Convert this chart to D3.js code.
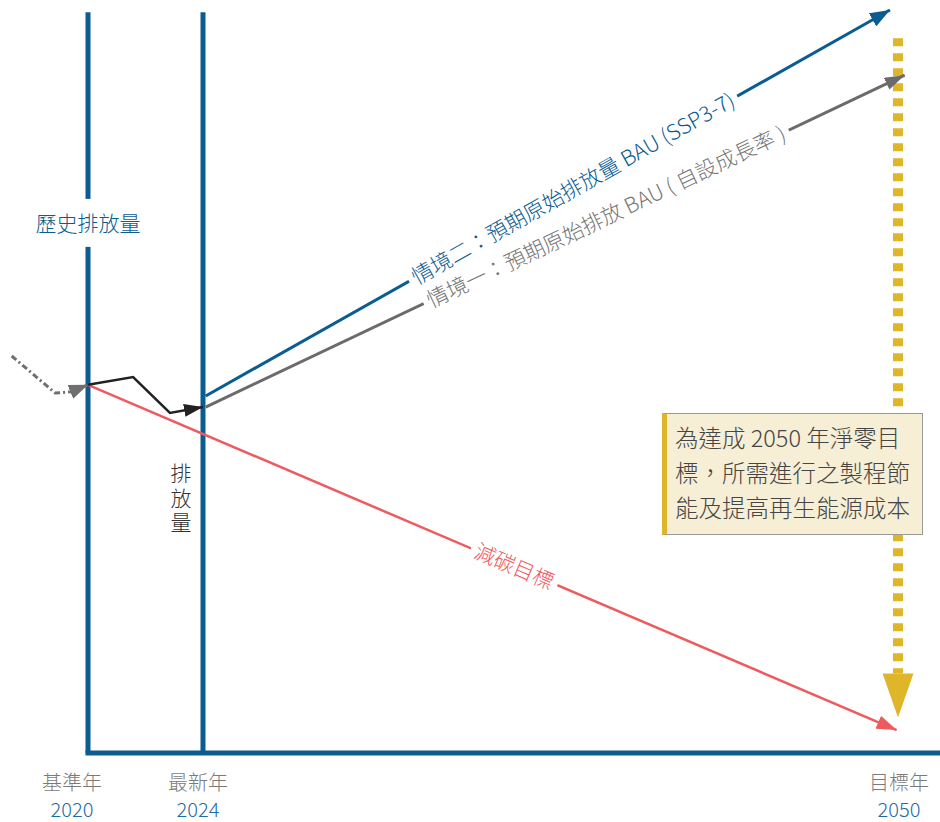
<!DOCTYPE html>
<html>
<head>
<meta charset="utf-8">
<title>減碳路徑示意圖</title>
<script src="https://cdnjs.cloudflare.com/ajax/libs/d3/7.8.5/d3.min.js"></script>
<style>
  html, body { margin: 0; padding: 0; background: #fff; }
  body { width: 940px; height: 822px; font-family: "Noto Sans CJK TC", "Noto Sans", sans-serif; font-weight: 300; }
  #note {
    position: absolute; left: 662px; top: 413px; width: 247px; height: 108px;
    background: #f6eed5; border: 1px solid #9a9a9a; border-left: 5px solid #dfb52a;
    padding: 6px 0 6px 8px; font-size: 23.5px; line-height: 35px; color: #454545;
    white-space: nowrap;
  }
</style>
</head>
<body>
<div id="chart"></div>
<div id="note"></div>
<script>
  // 年份與排放指數（示意值，2020 約 100）
  const histYears  = [2017.4, 2018.88, 2019.4, 2020];
  const histValues = [107.3, 97.3, 97.6, 99.5];

  const actualYears  = [2020, 2021.57, 2022.85, 2024];
  const actualValues = [99.5, 101.6, 91.9, 93.5];

  const bau2Years  = [2024.1, 2049.7];
  const bau2Values = [96.5, 200.8];

  const bau1Years  = [2024.1, 2050.25];
  const bau1Values = [93.5, 183.2];

  const targetYears  = [2020, 2049.95];
  const targetValues = [99.5, 6.2];

  // 缺口虛線：起點至箭頭底部
  const gapYears  = [2050, 2050];
  const gapValues = [193.2, 21.5];

  const milestoneYears  = [2020, 2024, 2050];
  const milestoneNames  = ['基準年', '最新年', '目標年'];

  const noteText = ['為達成 2050 年淨零目', '標，所需進行之製程節', '能及提高再生能源成本'];

  const blue = '#0a5c91', red = '#ee5a5e', gray = '#6b6b6b', gold = '#dfb52a', black = '#222';

  const width = 940, height = 822;

  const x = d3.scaleLinear()
    .domain([2017, 2020, 2024, 2050])
    .range([0, 88, 203, 898]);

  const y = d3.scaleLinear()
    .domain([0, 200])
    .range([753, 13]);

  const svg = d3.select('#chart').append('svg')
    .attr('width', width)
    .attr('height', height)
    .style('position', 'absolute').style('left', 0).style('top', 0);

  const defs = svg.append('defs');
  function marker(id, color, len, w, atBase) {
    defs.append('marker')
      .attr('id', id)
      .attr('markerUnits', 'userSpaceOnUse')
      .attr('viewBox', `0 ${-w / 2} ${len} ${w}`)
      .attr('refX', atBase ? 0 : len).attr('refY', 0)
      .attr('markerWidth', len).attr('markerHeight', w)
      .attr('orient', 'auto')
      .append('path')
      .attr('d', `M0,${-w / 2}L${len},0L0,${w / 2}Z`)
      .attr('fill', color);
  }
  marker('arrBlue', blue, 20, 15);
  marker('arrGray', gray, 20, 13);
  marker('arrHist', '#6f6f6f', 19, 15);
  marker('arrBlack', black, 19, 13);
  marker('arrRed', red, 20, 14);
  marker('arrGold', gold, 44, 31, true);

  const line = d3.line().x(d => x(d[0])).y(d => y(d[1]));
  const pts = (xs, vs) => xs.map((v, i) => [v, vs[i]]);

  // 縱向年份線與底軸
  milestoneYears.slice(0, 2).forEach(yr => {
    svg.append('line')
      .attr('x1', x(yr)).attr('x2', x(yr))
      .attr('y1', y(200.2)).attr('y2', y(0))
      .attr('stroke', blue).attr('stroke-width', 5);
  });
  svg.append('line')
    .attr('x1', x(2020) - 2.5).attr('x2', width)
    .attr('y1', y(0)).attr('y2', y(0))
    .attr('stroke', blue).attr('stroke-width', 5);

  // 歷史排放量 (虛線)
  svg.append('path')
    .attr('d', line(pts(histYears, histValues)))
    .attr('fill', 'none').attr('stroke', '#6f6f6f').attr('stroke-width', 3)
    .attr('stroke-dasharray', '6,3,2,3')
    .attr('marker-end', 'url(#arrHist)');

  // 金色缺口虛線
  svg.append('path')
    .attr('d', line(pts(gapYears, gapValues)))
    .attr('fill', 'none').attr('stroke', gold).attr('stroke-width', 10)
    .attr('stroke-dasharray', '8,7')
    .attr('marker-end', 'url(#arrGold)');

  // 情境線
  svg.append('path')
    .attr('d', line(pts(bau2Years, bau2Values)))
    .attr('fill', 'none').attr('stroke', blue).attr('stroke-width', 3)
    .attr('marker-end', 'url(#arrBlue)');
  svg.append('path')
    .attr('d', line(pts(bau1Years, bau1Values)))
    .attr('fill', 'none').attr('stroke', gray).attr('stroke-width', 3)
    .attr('marker-end', 'url(#arrGray)');
  svg.append('path')
    .attr('d', line(pts(targetYears, targetValues)))
    .attr('fill', 'none').attr('stroke', red).attr('stroke-width', 2.5)
    .attr('marker-end', 'url(#arrRed)');
  svg.append('path')
    .attr('d', line(pts(actualYears, actualValues)))
    .attr('fill', 'none').attr('stroke', black).attr('stroke-width', 2.5)
    .attr('marker-end', 'url(#arrBlack)');

  // 沿線標籤（白色底覆蓋線段）
  function lineLabel(xs, vs, t, text, color, size, halo) {
    const x0 = x(xs[0]), y0 = y(vs[0]), x1 = x(xs[1]), y1 = y(vs[1]);
    const cx = x0 + (x1 - x0) * t, cy = y0 + (y1 - y0) * t;
    const ang = Math.atan2(y1 - y0, x1 - x0) * 180 / Math.PI;
    const g = svg.append('g').attr('transform', `translate(${cx},${cy}) rotate(${ang})`);
    const txt = g.append('text')
      .attr('text-anchor', 'middle').attr('dy', '0.35em')
      .attr('font-size', size).attr('fill', color)
      .text(text);
    const bb = txt.node().getBBox();
    g.insert('rect', 'text')
      .attr('x', bb.x - halo).attr('y', bb.y + 2)
      .attr('width', bb.width + halo * 2).attr('height', bb.height - 4)
      .attr('fill', '#fff');
  }
  lineLabel(bau1Years, bau1Values, 0.573, '情境一：預期原始排放 BAU ( 自設成長率 )', '#767676', 21.4, 5);
  lineLabel(bau2Years, bau2Values, 0.537, '情境二：預期原始排放量 BAU (SSP3-7)', blue, 21.4, 5);
  lineLabel(targetYears, targetValues, 0.527, '減碳目標', red, 21, 5);

  // 歷史排放量標籤
  const hist = svg.append('g').attr('transform', `translate(${x(2020)},${y(143)})`);
  hist.append('rect').attr('x', -56).attr('y', -25).attr('width', 112).attr('height', 48).attr('fill', '#fff');
  hist.append('text').attr('text-anchor', 'middle').attr('dy', '0.35em')
    .attr('font-size', 21).attr('fill', blue).text('歷史排放量');

  // 直排「排放量」
  svg.append('text')
    .attr('x', x(2024) - 22).attr('y', y(78.5))
    .style('writing-mode', 'vertical-rl')
    .attr('letter-spacing', 3.5)
    .attr('font-size', 21).attr('fill', '#333').text('排放量');

  // 底部年份標籤
  const labelShift = [-16, -5, 1];
  milestoneYears.forEach((yr, i) => {
    const g = svg.append('g').attr('transform', `translate(${x(yr) + labelShift[i]},0)`);
    g.append('text').attr('y', 790).attr('text-anchor', 'middle')
      .attr('font-size', 20).attr('fill', '#7a7a7a').text(milestoneNames[i]);
    g.append('text').attr('y', 817).attr('text-anchor', 'middle')
      .attr('font-size', 20).attr('fill', '#1f6ca3').text(String(yr));
  });

  // 說明框
  d3.select('#note').selectAll('div')
    .data(noteText).enter().append('div').text(d => d);
</script>
</body>
</html>
